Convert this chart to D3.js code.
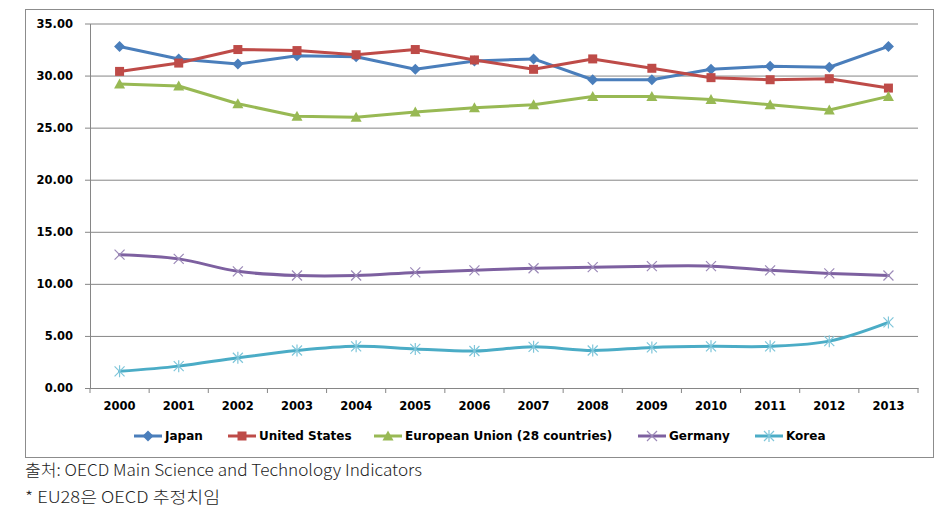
<!DOCTYPE html>
<html><head><meta charset="utf-8">
<script src="https://cdn.jsdelivr.net/npm/d3@7"></script>
<style>body{margin:0;background:#fff}</style>
</head><body>
<svg id="c" width="946" height="511"></svg>
<script>
const years = ["2000","2001","2002","2003","2004","2005","2006","2007","2008","2009","2010","2011","2012","2013"];
const japan = [32.8,31.6,31.1,31.9,31.8,30.6,31.4,31.6,29.6,29.6,30.6,30.9,30.8,32.8];
const unitedStates = [30.4,31.2,32.5,32.4,32.0,32.5,31.5,30.6,31.6,30.7,29.8,29.6,29.7,28.8];
const europeanUnion = [29.2,29.0,27.3,26.1,26.0,26.5,26.9,27.2,28.0,28.0,27.7,27.2,26.7,28.0];
const germany = [12.8,12.4,11.2,10.8,10.8,11.1,11.3,11.5,11.6,11.7,11.7,11.3,11.0,10.8];
const korea = [1.6,2.1,2.9,3.6,4.0,3.75,3.55,3.95,3.6,3.9,4.0,4.0,4.5,6.3];
const yTicks = [0,5,10,15,20,25,30,35];
const seriesNames = ["Japan","United States","European Union (28 countries)","Germany","Korea"];
const footer1 = "출처: OECD Main Science and Technology Indicators";
const footer2 = "* EU28은 OECD 추정치임";

const series = [
  {name: seriesNames[0], values: japan, color: "#4A7EBB", marker: "diamond", smooth: false, legendX: 134},
  {name: seriesNames[1], values: unitedStates, color: "#BE4B48", marker: "square", smooth: false, legendX: 228},
  {name: seriesNames[2], values: europeanUnion, color: "#98B954", marker: "triangle", smooth: false, legendX: 374},
  {name: seriesNames[3], values: germany, color: "#7D60A0", marker: "x", smooth: true, legendX: 638},
  {name: seriesNames[4], values: korea, color: "#4BACC6", marker: "star", smooth: true, legendX: 755}
];

const svg = d3.select("#c");
const L = 90, R = 918, T = 23.5, B = 388;
const x = d3.scaleBand().domain(years).range([L, R]);
const y = d3.scaleLinear().domain([0, 35]).range([B, T]);

// outer border
svg.append("rect").attr("x", 25.5).attr("y", 9.5).attr("width", 908).attr("height", 448)
  .attr("fill", "#fff").attr("stroke", "#8c8c8c").attr("stroke-width", 1);

// gridlines + y axis
const yAxis = d3.axisLeft(y).tickValues(yTicks).tickFormat(d3.format(".2f"))
  .tickSize(-(R - L)).tickSizeOuter(0).tickPadding(12);
const gy = svg.append("g").attr("transform", `translate(${L},0)`).call(yAxis);
gy.select(".domain").attr("stroke", "#868686");
gy.selectAll(".tick line").attr("stroke", "#868686").attr("x1", -5).attr("x2", R - L);
gy.selectAll(".tick text").attr("font-family", "DejaVu Sans, Verdana, sans-serif")
  .attr("font-weight", "bold").attr("font-size", "11.5px").attr("fill", "#000")
  .attr("x", -17);

// x axis
const xAxis = d3.axisBottom(x).tickSize(0).tickPadding(14).tickSizeOuter(0);
const gx = svg.append("g").attr("transform", `translate(0,${B})`).call(xAxis);
gx.select(".domain").attr("stroke", "#868686");
gx.selectAll(".tick text").attr("font-family", "DejaVu Sans, Verdana, sans-serif")
  .attr("font-weight", "bold").attr("font-size", "11.5px").attr("fill", "#000");
// band boundary ticks
const bounds = years.map(d => x(d)).concat([R]);
svg.append("g").selectAll("line").data(bounds).join("line")
  .attr("x1", d => d).attr("x2", d => d).attr("y1", B).attr("y2", B + 5)
  .attr("stroke", "#868686");

function drawMarker(g, type, color, cx, cy) {
  if (type === "diamond") {
    g.append("path").attr("d", `M${cx},${cy-5.5}L${cx+5.5},${cy}L${cx},${cy+5.5}L${cx-5.5},${cy}Z`).attr("fill", color);
  } else if (type === "square") {
    g.append("rect").attr("x", cx-4.5).attr("y", cy-4.5).attr("width", 9).attr("height", 9).attr("fill", color);
  } else if (type === "triangle") {
    g.append("path").attr("d", `M${cx},${cy-5.5}L${cx+5.5},${cy+4.5}L${cx-5.5},${cy+4.5}Z`).attr("fill", color);
  } else if (type === "x") {
    g.append("path").attr("d", `M${cx-5},${cy-5}L${cx+5},${cy+5}M${cx-5},${cy+5}L${cx+5},${cy-5}`)
      .attr("stroke", "#9c8ab8").attr("stroke-width", 1.2).attr("fill", "none");
  } else if (type === "star") {
    g.append("path").attr("d", `M${cx-5},${cy-5}L${cx+5},${cy+5}M${cx-5},${cy+5}L${cx+5},${cy-5}M${cx},${cy-6}L${cx},${cy+6}`)
      .attr("stroke", "#7fc6da").attr("stroke-width", 1.2).attr("fill", "none");
  }
}

const xc = d => x(d) + x.bandwidth() / 2;
series.forEach(s => {
  const line = d3.line().x((v, i) => xc(years[i])).y(v => y(v))
    .curve(s.smooth ? d3.curveCatmullRom.alpha(0.5) : d3.curveLinear);
  svg.append("path").datum(s.values).attr("d", line)
    .attr("fill", "none").attr("stroke", s.color).attr("stroke-width", 3)
    .attr("stroke-linejoin", "round").attr("stroke-linecap", "round");
  const g = svg.append("g");
  s.values.forEach((v, i) => drawMarker(g, s.marker, s.color, xc(years[i]), y(v)));
});

// legend
const ly = 436;
series.forEach(s => {
  const g = svg.append("g");
  g.append("line").attr("x1", s.legendX).attr("x2", s.legendX + 28).attr("y1", ly).attr("y2", ly)
    .attr("stroke", s.color).attr("stroke-width", 3);
  drawMarker(g, s.marker, s.color, s.legendX + 14, ly);
  g.append("text").attr("x", s.legendX + 31).attr("y", ly).attr("dy", "0.36em")
    .attr("font-family", "DejaVu Sans, Verdana, sans-serif").attr("font-weight", "bold")
    .attr("font-size", "12px").attr("fill", "#000").text(s.name);
});

// footer
svg.append("text").attr("x", 25).attr("y", 476).attr("font-family", "Noto Sans CJK KR, sans-serif")
  .attr("font-weight", 300).attr("font-size", "16px").attr("fill", "#222")
  .attr("textLength", 397).attr("lengthAdjust", "spacingAndGlyphs").text(footer1);
svg.append("text").attr("x", 25).attr("y", 503).attr("font-family", "Noto Sans CJK KR, sans-serif")
  .attr("font-weight", 300).attr("font-size", "16px").attr("fill", "#222")
  .attr("textLength", 195).attr("lengthAdjust", "spacingAndGlyphs").text(footer2);
</script>
</body></html>
